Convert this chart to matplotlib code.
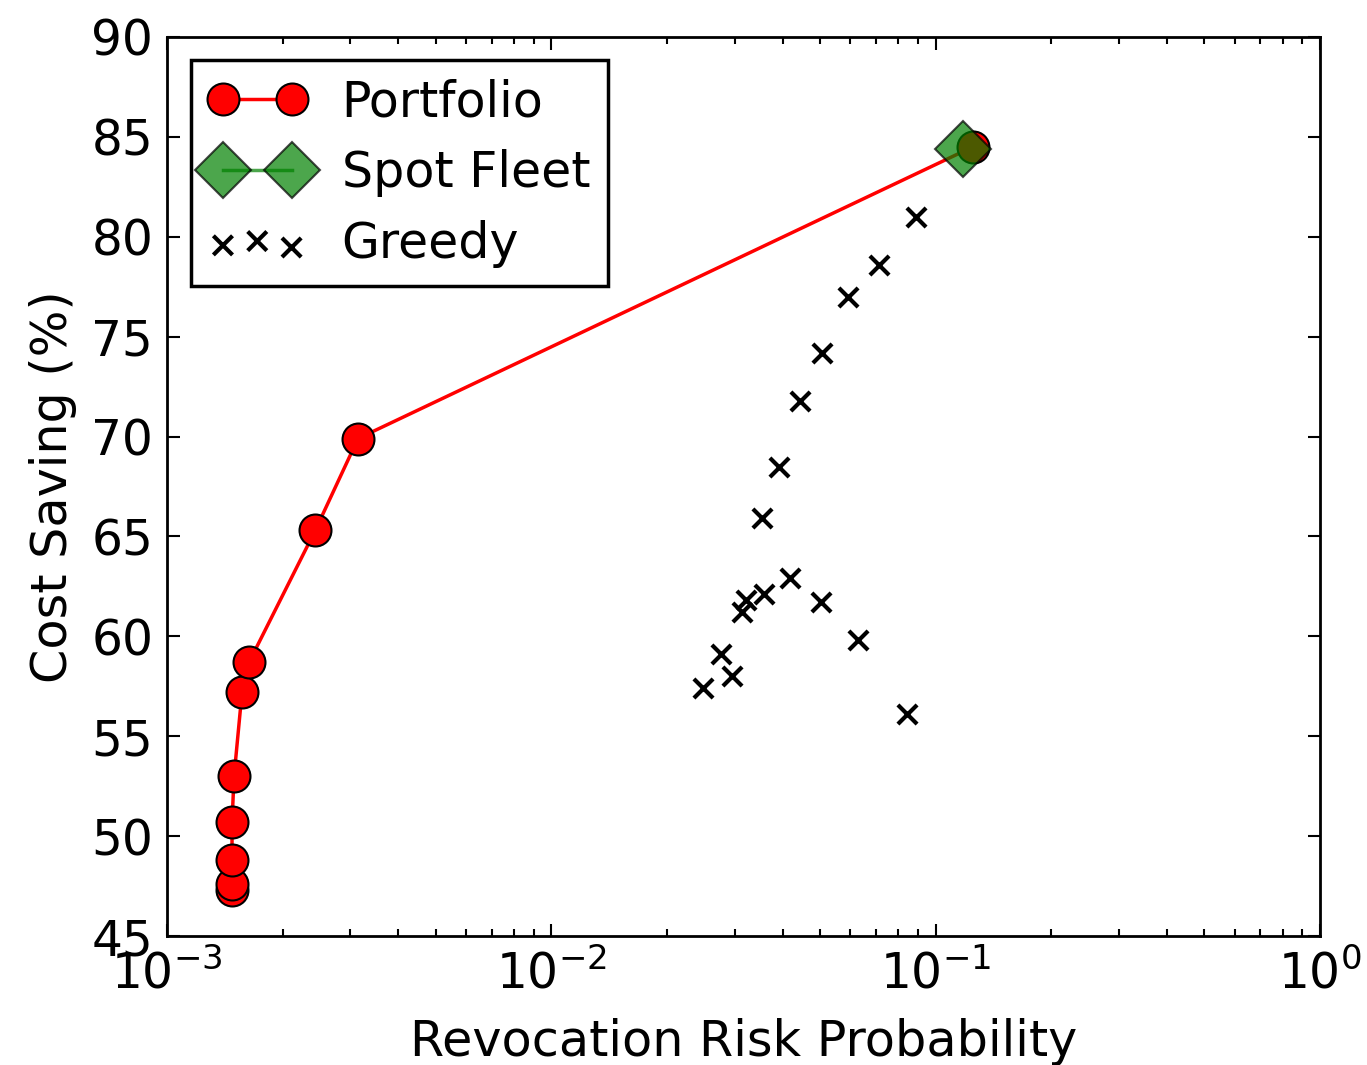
import numpy as np
import matplotlib
matplotlib.use("Agg")
import matplotlib.pyplot as plt

# Portfolio frontier
port_risk = [0.001476, 0.001476, 0.001476, 0.001476, 0.001494, 0.001567, 0.001634, 0.00243, 0.00314, 0.1250]
port_save = [47.3, 47.6, 48.8, 50.7, 53.0, 57.2, 58.7, 65.3, 69.9, 84.5]

# Spot Fleet
spot_risk = [0.1177]
spot_save = [84.4]

# Greedy
greedy_risk = [0.0248, 0.0277, 0.0295, 0.0313, 0.0321, 0.0358, 0.0418, 0.0503, 0.0628, 0.0842,
               0.0353, 0.0391, 0.0444, 0.0506, 0.0592, 0.0712, 0.0889]
greedy_save = [57.4, 59.1, 58.0, 61.2, 61.8, 62.1, 62.9, 61.7, 59.8, 56.1,
               65.9, 68.5, 71.8, 74.2, 77.0, 78.6, 81.0]

plt.rcParams['font.family'] = ['DejaVu Sans']
fig = plt.figure(figsize=(13.67, 10.65), dpi=100)
ax = fig.add_axes([0.1222, 0.1211, 0.8434, 0.8442])

ax.plot(port_risk, port_save, color='red', lw=2.5, marker='o', markersize=23,
        markerfacecolor='red', markeredgecolor='black', markeredgewidth=1.5,
        label='Portfolio', zorder=3)
ax.plot(spot_risk, spot_save, color='green', lw=2.5, marker='D', markersize=29,
        markerfacecolor='green', markeredgecolor='black', markeredgewidth=1.5,
        alpha=0.7, label='Spot Fleet', zorder=4)
ax.scatter(greedy_risk, greedy_save, marker='x', s=190, color='black',
           linewidths=3, label='Greedy', zorder=2)

ax.set_xscale('log')
ax.set_xlim(1e-3, 1)
ax.set_ylim(45, 90)
ax.set_yticks(np.arange(45, 91, 5))

ax.tick_params(which='both', direction='in', top=True, right=True, labelsize=35, width=1.5)
ax.tick_params(which='major', length=9, pad=10)
ax.tick_params(which='minor', length=5)
for s in ax.spines.values():
    s.set_linewidth(2)

ax.set_xlabel('Revocation Risk Probability', fontsize=35.5, labelpad=14)
ax.set_ylabel('Cost Saving (%)', fontsize=35.5, labelpad=10)

leg = ax.legend(loc='upper left', numpoints=2, scatterpoints=3, fontsize=35.3,
                fancybox=False, framealpha=1, edgecolor='black',
                borderaxespad=0.48, handlelength=2.0, labelspacing=0.47,
                handletextpad=0.72, borderpad=0.36)
leg.get_frame().set_linewidth(2.5)

fig.savefig('out.png', dpi=100)
